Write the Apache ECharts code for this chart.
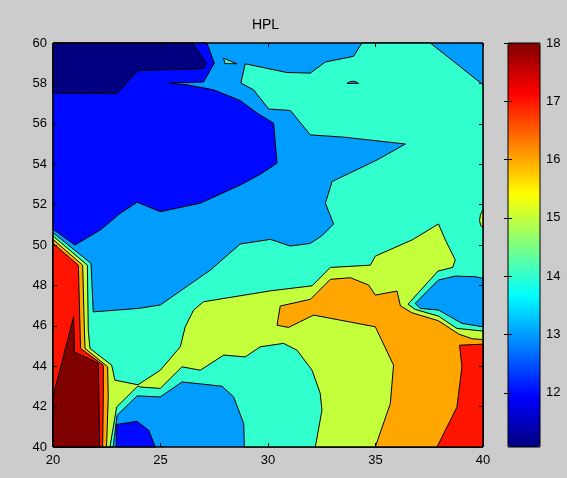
<!DOCTYPE html>
<html>
<head>
<meta charset="utf-8">
<script src="https://cdn.jsdelivr.net/npm/echarts@6/dist/echarts.min.js"></script>
<style>
html,body{margin:0;padding:0;background:#cccccc;}
#chart{width:567px;height:478px;}
</style>
</head>
<body>
<div id="chart"></div>
<script>
// ---- axes / ticks ----
const xRange = [20, 40];
const yRange = [40, 60];
const colorRange = [11.07, 18];
const colorbarTicks = [12, 13, 14, 15, 16, 17, 18];
const chartTitle = 'HPL';

// ---- filled contour regions (data coordinates), each with its contour level ----
const plotFrame = [[20,40],[40,40],[40,60],[20,60]];
const blueMain = [[20,60],[27.16,60],[27.5,59.0],[27.0,58.07],[25.42,58.02],[26.23,57.93],[27.47,57.68],[28.71,57.15],[29.49,56.53],[30.26,56.03],[30.42,54.05],[29.64,53.5],[28.71,52.97],[26.85,52.07],[24.99,51.65],[23.91,52.12],[23.13,51.57],[22.2,50.74],[21.02,50.0],[20,50.78]];
const navyCorner = [[20,60],[26.5,60],[27.12,59.0],[27.0,58.73],[23.95,58.64],[22.98,57.5],[20,57.52]];
const aquaMain = [[34.37,60],[37.55,60],[40,57.93],[40,40],[28.9,40],[28.87,41.16],[28.4,42.48],[27.86,43.01],[26.0,43.22],[24.99,42.48],[23.91,42.53],[22.98,41.57],[22.8,40],[20,40],[20,50.61],[21.77,49.09],[21.87,46.69],[23.97,46.86],[24.99,47.03],[27.32,48.76],[28.71,50.05],[30.11,50.28],[31.04,49.95],[31.97,50.08],[32.5,50.45],[33.05,51.04],[32.67,52.07],[32.98,53.14],[35.07,54.21],[36.39,55.0],[33.52,55.34],[31.97,55.45],[31.04,56.66],[30.03,56.73],[29.33,57.68],[28.74,58.02],[28.94,58.97],[30.88,58.54],[31.97,58.51],[32.67,59.06],[33.98,59.34]];
const aquaSliver = [[27.93,59.25],[28.56,58.97],[28.0,58.98]];
const yellowMain = [[20,50.45],[21.6,49.0],[21.64,45.79],[21.72,44.88],[22.73,44.05],[22.88,43.31],[23.95,43.08],[24.99,43.8],[25.92,44.96],[26.15,45.95],[26.54,46.78],[27.0,47.19],[30.11,47.73],[32.05,47.98],[32.9,48.89],[34.76,49.0],[34.99,49.45],[36.7,50.25],[37.93,51.04],[38.25,50.25],[38.71,49.26],[38.59,48.89],[37.91,48.71],[36.51,47.07],[36.85,46.81],[37.93,46.48],[38.79,45.87],[40,45.74],[40,40],[32.2,40],[32.51,41.82],[32.43,42.65],[32.05,43.8],[31.35,44.79],[30.73,45.13],[29.64,44.96],[28.94,44.46],[27.94,44.55],[26.85,43.8],[26.0,43.97],[24.99,42.9],[24.06,42.97],[23.95,43.02],[22.96,41.98],[22.65,40],[20,40]];
const yellowEdgeBump = [[40,51.75],[39.88,51.5],[39.84,51.2],[39.9,50.95],[40,50.9]];
const lightBlueLake = [[40,48.35],[39.64,48.43],[38.71,48.46],[37.93,48.27],[36.85,47.11],[37.08,46.86],[37.93,46.78],[39.02,46.12],[40,45.95]];
const orangeMain = [[30.42,46.03],[30.57,46.98],[31.97,47.31],[32.9,48.3],[33.83,48.38],[34.68,48.02],[34.99,47.52],[36.0,47.72],[36.16,46.98],[36.23,46.94],[36.7,46.64],[37.93,46.25],[38.87,45.59],[39.49,45.36],[40,45.32],[40,40],[34.99,40],[35.69,42.15],[35.84,44.05],[34.99,45.95],[32.12,46.53],[30.96,45.92]];
const orangeLeft = [[20,50.28],[21.38,49.0],[21.46,45.79],[21.49,44.88],[22.54,43.97],[22.57,42.48],[22.49,40],[20,40]];
const redRight = [[38.91,45.04],[40,45.09],[40,40],[37.86,40],[38.79,41.98],[39.02,43.97]];
const redLeft = [[20,50.08],[21.18,49.0],[21.26,45.79],[21.28,44.88],[22.34,44.05],[22.34,42.48],[22.31,40],[20,40]];
const darkRedLeft = [[20,42.48],[20.96,46.45],[21.0,44.7],[22.11,44.15],[22.17,40],[20,40]];
const blueLakeBottom = [[22.94,40],[22.94,41.11],[23.91,41.27],[24.45,40.83],[24.76,40]];
const tinyIsland = [[33.67,58.0],[33.85,58.1],[34.05,58.1],[34.21,58.0]];

// drawing order (painter's order) and level of each region
const regionShapes = [plotFrame, blueMain, navyCorner, aquaMain, aquaSliver, yellowMain, yellowEdgeBump,
  lightBlueLake, orangeMain, orangeLeft, redRight, redLeft, darkRedLeft, blueLakeBottom, tinyIsland];
const regionLevels = [13, 12, 11.07, 14, 14, 15, 15, 13, 16, 16, 17, 17, 18, 12, 13];

const jet = ['#000080','#0000ff','#0080ff','#00ffff','#80ff80','#ffff00','#ff8000','#ff0000','#800000'];
const FONT = 'Liberation Sans, Arial, Helvetica, sans-serif';

const chart = echarts.init(document.getElementById('chart'), null, {renderer: 'canvas'});

const seriesData = regionLevels.map((lv, i) => [lv, i]);

const tickCommon = {show: true, inside: true, length: 4, lineStyle: {color: '#000', width: 1}};

chart.setOption({
  animation: false,
  backgroundColor: '#cccccc',
  graphic: [{
    type: 'text', x: 265.5, y: 25, z: 20,
    style: {text: chartTitle, font: '14px ' + FONT, fill: '#000', textAlign: 'center', textVerticalAlign: 'middle'}
  }],
  grid: [
    {left: 53, top: 43, width: 430, height: 404, show: true, borderColor: '#000', borderWidth: 1, backgroundColor: 'transparent', z: 10},
    {left: 508, top: 43, width: 32, height: 404, show: true, borderColor: '#000', borderWidth: 1, backgroundColor: 'transparent', z: 10}
  ],
  xAxis: [
    {gridIndex: 0, type: 'value', min: xRange[0], max: xRange[1], interval: 5, position: 'bottom', z: 10,
      axisLine: {show: false}, axisTick: tickCommon, splitLine: {show: false},
      axisLabel: {color: '#000', fontSize: 13, fontFamily: FONT, margin: 7}},
    {gridIndex: 0, type: 'value', min: xRange[0], max: xRange[1], interval: 5, position: 'top', z: 10,
      axisLine: {show: false}, axisTick: tickCommon, splitLine: {show: false}, axisLabel: {show: false}},
    {gridIndex: 1, type: 'value', min: 0, max: 1, show: false}
  ],
  yAxis: [
    {gridIndex: 0, type: 'value', min: yRange[0], max: yRange[1], interval: 2, position: 'left', z: 10,
      axisLine: {show: false}, axisTick: tickCommon, splitLine: {show: false},
      axisLabel: {color: '#000', fontSize: 13, fontFamily: FONT, margin: 6}},
    {gridIndex: 0, type: 'value', min: yRange[0], max: yRange[1], interval: 2, position: 'right', z: 10,
      axisLine: {show: false}, axisTick: tickCommon, splitLine: {show: false}, axisLabel: {show: false}},
    {gridIndex: 1, type: 'value', min: colorRange[0], max: colorRange[1], position: 'right', z: 10,
      axisLine: {show: false}, splitLine: {show: false},
      axisTick: Object.assign({}, tickCommon, {customValues: colorbarTicks}),
      axisLabel: {color: '#000', fontSize: 13, fontFamily: FONT, margin: 6, customValues: colorbarTicks}},
    {gridIndex: 1, type: 'value', min: colorRange[0], max: colorRange[1], position: 'left', z: 10,
      axisLine: {show: false}, splitLine: {show: false},
      axisTick: Object.assign({}, tickCommon, {customValues: colorbarTicks}),
      axisLabel: {show: false}}
  ],
  visualMap: {
    type: 'continuous', min: colorRange[0], max: colorRange[1], dimension: 0, seriesIndex: 0,
    inRange: {color: jet}, calculable: false, hoverLink: false, realtime: false,
    orient: 'vertical', left: 508, top: 43, itemWidth: 32, itemHeight: 404, padding: 0,
    showLabel: false, textStyle: {color: 'transparent'}
  },
  series: [{
    type: 'custom',
    coordinateSystem: 'cartesian2d',
    xAxisIndex: 0, yAxisIndex: 0,
    clip: false,
    silent: true,
    data: seriesData,
    renderItem: function (params, api) {
      const shape = regionShapes[api.value(1)];
      const pts = shape.map(p => api.coord(p));
      return {
        type: 'polygon',
        shape: {points: pts},
        style: {fill: api.visual('color'), stroke: '#000', lineWidth: 1}
      };
    }
  }]
});
</script>
</body>
</html>
